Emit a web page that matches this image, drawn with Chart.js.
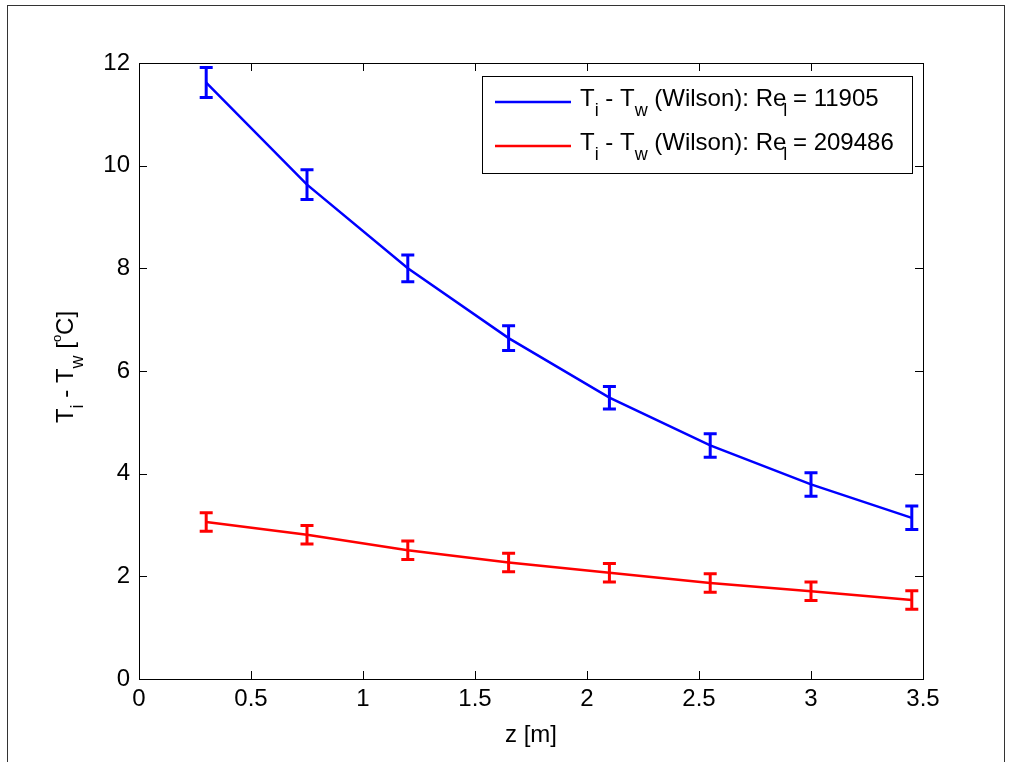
<!DOCTYPE html>
<html>
<head>
<meta charset="utf-8">
<script src="https://cdn.jsdelivr.net/npm/chart.js@4.4.1/dist/chart.umd.min.js"></script>
<style>
html, body { margin: 0; padding: 0; background: #fff; overflow: hidden; }
</style>
</head>
<body>
<canvas id="myChart" width="1009" height="762"></canvas>
<script>
// data
var zPos = [0.3, 0.75, 1.2, 1.65, 2.1, 2.55, 3.0, 3.45];
var dtLowRe = [11.62, 9.63, 8.0, 6.64, 5.48, 4.55, 3.79, 3.14];
var errLowRe = [0.29, 0.29, 0.26, 0.24, 0.22, 0.23, 0.23, 0.23];
var dtHighRe = [3.06, 2.81, 2.51, 2.27, 2.07, 1.87, 1.71, 1.54];
var errHighRe = [0.18, 0.18, 0.18, 0.18, 0.18, 0.18, 0.18, 0.18];
var reValues = ['11905', '209486'];
var xTickLabels = ['0', '0.5', '1', '1.5', '2', '2.5', '3', '3.5'];
var yTickLabels = ['0', '2', '4', '6', '8', '10', '12'];
var seriesColors = ['#0000ff', '#ff0000'];

var FONT = '"Liberation Sans", Arial, sans-serif';
var mainFont = '24px ' + FONT;
var subFont = '18px ' + FONT;
var supFont = '13px ' + FONT;

function fontFor(t) {
    if (t === 'sup') return supFont;
    if (t === 'sub' || t === 'subx') return subFont;
    return mainFont;
}

function richWidth(ctx, parts) {
    var w = 0;
    parts.forEach(function (p) {
        ctx.font = fontFor(p[1]);
        if (p[1] !== 'subx') w += ctx.measureText(p[0]).width;
    });
    return w;
}

function drawRich(ctx, parts, x, y) {
    parts.forEach(function (p) {
        var t = p[1] || '';
        ctx.font = fontFor(t);
        var dy = (t === 'sub' || t === 'subx') ? 10 : (t === 'sup' ? -12 : 0);
        var dx = t === 'subx' ? -3 : 0;
        ctx.fillText(p[0], x + dx, y + dy);
        if (t !== 'subx') x += ctx.measureText(p[0]).width;
    });
}

function legendParts(re) {
    return [['T'], ['i', 'sub'], [' - T'], ['w', 'sub'], [' (Wilson): Re'], ['l', 'subx'], [' = ' + re]];
}

var errorBars = {
    id: 'errorBars',
    afterDatasetsDraw: function (chart) {
        var ctx = chart.ctx, xs = chart.scales.x, ys = chart.scales.y;
        var errs = [errLowRe, errHighRe];
        chart.data.datasets.forEach(function (ds, k) {
            ctx.save();
            ctx.strokeStyle = ds.borderColor;
            ctx.lineWidth = 3;
            ds.data.forEach(function (pt, i) {
                var px = xs.getPixelForValue(pt.x);
                var top = ys.getPixelForValue(pt.y + errs[k][i]);
                var bot = ys.getPixelForValue(pt.y - errs[k][i]);
                ctx.beginPath();
                ctx.moveTo(px, top); ctx.lineTo(px, bot);
                ctx.moveTo(px - 6.5, top); ctx.lineTo(px + 6.5, top);
                ctx.moveTo(px - 6.5, bot); ctx.lineTo(px + 6.5, bot);
                ctx.stroke();
            });
            ctx.restore();
        });
    }
};

var axesBox = {
    id: 'axesBox',
    afterDraw: function (chart) {
        var ctx = chart.ctx, a = chart.chartArea;
        var xs = chart.scales.x, ys = chart.scales.y;
        ctx.save();
        // figure frame
        ctx.strokeStyle = '#333';
        ctx.lineWidth = 1;
        ctx.strokeRect(7.5, 5.5, 997, 820);
        // axes box and inward ticks
        ctx.strokeStyle = '#000';
        ctx.strokeRect(Math.round(a.left) + 0.5, Math.round(a.top) + 0.5,
            Math.round(a.right - a.left), Math.round(a.bottom - a.top));
        ctx.beginPath();
        xs.ticks.forEach(function (t) {
            var px = Math.round(xs.getPixelForValue(t.value)) + 0.5;
            ctx.moveTo(px, a.bottom); ctx.lineTo(px, a.bottom - 8);
            ctx.moveTo(px, a.top); ctx.lineTo(px, a.top + 8);
        });
        ys.ticks.forEach(function (t) {
            var py = Math.round(ys.getPixelForValue(t.value)) + 0.5;
            ctx.moveTo(a.left, py); ctx.lineTo(a.left + 8, py);
            ctx.moveTo(a.right, py); ctx.lineTo(a.right - 8, py);
        });
        ctx.stroke();

        // axis titles
        ctx.fillStyle = '#000';
        ctx.textBaseline = 'alphabetic';
        var xt = [['z [m]']];
        drawRich(ctx, xt, (a.left + a.right) / 2 - richWidth(ctx, xt) / 2, 742);
        var yt = [['T'], ['i', 'sub'], [' - T'], ['w', 'sub'], [' ['], ['o', 'sup'], ['C]']];
        var yw = richWidth(ctx, yt);
        ctx.save();
        ctx.translate(73, (a.top + a.bottom) / 2 - 4);
        ctx.rotate(-Math.PI / 2);
        drawRich(ctx, yt, -yw / 2, 0);
        ctx.restore();

        // legend
        ctx.fillStyle = '#fff';
        ctx.fillRect(482, 76, 430, 97);
        ctx.strokeStyle = '#000';
        ctx.strokeRect(482.5, 76.5, 430, 97);
        chart.data.datasets.forEach(function (ds, k) {
            var cy = 102 + k * 44;
            ctx.strokeStyle = ds.borderColor;
            ctx.lineWidth = 2.5;
            ctx.beginPath();
            ctx.moveTo(495, cy); ctx.lineTo(571, cy);
            ctx.stroke();
            ctx.fillStyle = '#000';
            drawRich(ctx, legendParts(reValues[k]), 580, cy + 4);
        });
        ctx.restore();
    }
};

var tickFont = { family: FONT, size: 24 };

var ctx = document.getElementById('myChart').getContext('2d');
var myChart = new Chart(ctx, {
    type: 'line',
    data: {
        datasets: [{
            label: 'Re 11905',
            data: zPos.map(function (z, i) { return { x: z, y: dtLowRe[i] }; }),
            borderColor: seriesColors[0],
            borderWidth: 2.5,
            pointRadius: 0,
            fill: false,
            tension: 0
        }, {
            label: 'Re 209486',
            data: zPos.map(function (z, i) { return { x: z, y: dtHighRe[i] }; }),
            borderColor: seriesColors[1],
            borderWidth: 2.5,
            pointRadius: 0,
            fill: false,
            tension: 0
        }]
    },
    options: {
        responsive: false,
        animation: false,
        layout: { padding: { left: 0, right: 86, top: 63, bottom: 0 } },
        plugins: { legend: { display: false }, tooltip: { enabled: false } },
        scales: {
            x: {
                type: 'linear', min: 0, max: 3.5,
                ticks: {
                    stepSize: 0.5, color: '#000', font: tickFont, padding: 6, maxRotation: 0, autoSkip: false,
                    callback: function (v, i) { return xTickLabels[i]; }
                },
                grid: { display: false, drawTicks: false },
                border: { display: false },
                afterFit: function (s) { s.height = 83; }
            },
            y: {
                min: 0, max: 12,
                ticks: {
                    stepSize: 2, color: '#000', font: tickFont, padding: 9,
                    callback: function (v, i) { return yTickLabels[i]; }
                },
                grid: { display: false, drawTicks: false },
                border: { display: false },
                afterFit: function (s) { s.width = 139; }
            }
        }
    },
    plugins: [errorBars, axesBox]
});
</script>
</body>
</html>
